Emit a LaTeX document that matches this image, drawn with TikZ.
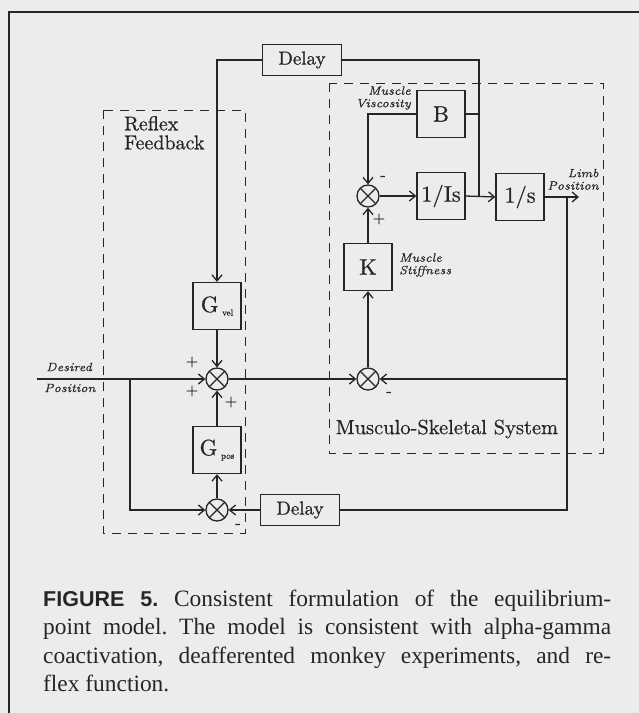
\documentclass[tikz,border=0pt]{standalone}
\usepackage{fontspec}
\usepackage{xcolor}
\usepackage{tikz}
\usetikzlibrary{positioning, arrows.meta}
\definecolor{paper}{HTML}{ECECEC}
\definecolor{ink}{HTML}{262626}
\newfontfamily\capserif{Liberation Serif}
\newfontfamily\capsans{Liberation Sans}
\newfontfamily\diagfont{lmroman10-regular.otf}[FakeBold=0.6]
\newfontfamily\noteital{lmroman7-italic.otf}[FakeBold=0.4]

\begin{document}
\begin{tikzpicture}[x=1pt, y=-1pt,
    blockbox/.style={draw=ink, line width=1.3pt, minimum width=48pt, minimum height=47pt,
        inner sep=0pt, text=ink, font=\diagfont\fontsize{22.5}{24}\selectfont},
    delaybox/.style={blockbox, minimum width=79pt, minimum height=31pt,
        font=\diagfont\fontsize{19}{22}\selectfont},
    sumnode/.style={circle, draw=ink, line width=1.3pt, minimum size=22pt, inner sep=0pt,
        path picture={\draw[ink, line width=1.1pt]
            (path picture bounding box.south west) -- (path picture bounding box.north east)
            (path picture bounding box.north west) -- (path picture bounding box.south east);}},
    wire/.style={draw=ink, line width=1.3pt},
    flow/.style={wire, -{Straight Barb[length=6pt, width=10pt]}},
    note/.style={font=\noteital\fontsize{12}{12.5}\selectfont, text=ink, inner sep=0pt},
    signmark/.style={font=\diagfont\fontsize{16}{16}\selectfont, text=ink, inner sep=0pt},
    groupbox/.style={draw=ink, line width=0.9pt, dash pattern=on 9pt off 7pt}]
    \fill[paper] (0,0) rectangle (639,713);
    \useasboundingbox (0,0) rectangle (639,713);
    \draw[ink, line width=1.6pt] (9,713) -- (9,12) -- (639,12);

    % group outlines
    \draw[groupbox] (103,110) rectangle (245,533);
    \draw[groupbox] (329,83) rectangle (603,453);
    \node[anchor=north west, align=left, text=ink, inner sep=0pt,
          font=\diagfont\fontsize{20}{19}\selectfont] (reflexlbl) at (124,116) {Reflex\\Feedback};
    \node[text=ink, inner sep=0pt, font=\diagfont\fontsize{20.5}{22}\selectfont]
          (mslbl) at (447,429) {Musculo-Skeletal System};

    % blocks
    \node[delaybox] (dlyT) at (302,60) {Delay};
    \node[delaybox] (dlyB) at (300,510) {Delay};
    \node[blockbox] (B) at (441,114) {B};
    \node[blockbox] (Is) at (441,196) {1/Is};
    \node[blockbox] (s) at (520,197) {1/s};
    \node[blockbox] (K) at (368,267) {K};
    \node[blockbox] (Gvel) at (217,306) {G\,\raisebox{-0.35ex}{\fontsize{9}{9}\selectfont vel}};
    \node[blockbox] (Gpos) at (217,450) {G\,\raisebox{-0.35ex}{\fontsize{9}{9}\selectfont pos}};

    % summing junctions
    \node[sumnode] (sumA) at (368,196) {};
    \node[sumnode] (sumB) at (368,379) {};
    \node[sumnode] (sumC) at (217,379) {};
    \node[sumnode] (sumD) at (217,510) {};

    \coordinate (desired) at (37,379);
    \coordinate (branch) at (130,379);
    \coordinate (vel) at (479,197);
    \coordinate (limbpos) at (567,197);
    \coordinate (limb) at (579,197);

    % labels
    \node[note, anchor=east, align=right] (visclbl) at (411,98) {Muscle\\Viscosity};
    \node[note, anchor=west, align=left] (stifflbl) at (399,265) {Muscle\\Stiffness};
    \node[note, anchor=south east, align=right] (limblbl) at (599,190) {Limb\\Position};
    \node[note, anchor=west] (deslbl1) at (46,367) {Desired};
    \node[note, anchor=west] (deslbl2) at (44,388) {Position};

    % signs
    \node[signmark] at (383,178) {-};
    \node[signmark] at (379,219) {+};
    \node[signmark] at (389,394) {-};
    \node[signmark] at (192,362) {+};
    \node[signmark] at (192,391) {+};
    \node[signmark] at (231,402) {+};
    \node[signmark] at (238,526) {-};

    % connections
    \draw[flow] (dlyT.west) -| (Gvel.north);
    \draw[wire] (vel) |- (dlyT.east);
    \draw[wire] (B.east) -- (B.east -| vel);
    \draw[flow] (B.west) -| (sumA.north);
    \draw[flow] (sumA.east) -- (Is.west);
    \draw[flow] (Is.east) -- (s.west);
    \draw[flow] (s.east) -- (limb);
    \draw[wire] (limbpos) |- (dlyB.east);
    \draw[flow] (limbpos |- sumB) -- (sumB.east);
    \draw[flow] (dlyB.west) -- (sumD.east);
    \draw[flow] (sumD.north) -- (Gpos.south);
    \draw[flow] (Gpos.north) -- (sumC.south);
    \draw[flow] (Gvel.south) -- (sumC.north);
    \draw[flow] (desired) -- (sumC.west);
    \draw[flow] (branch) |- (sumD.west);
    \draw[flow] (sumC.east) -- (sumB.west);
    \draw[flow] (sumB.north) -- (K.south);
    \draw[flow] (K.north) -- (sumA.south);

    % caption
    \node[anchor=north west, text width=568pt, inner sep=0pt, align=justify, text=ink,
          font=\capserif\fontsize{23.4}{28.3}\selectfont\frenchspacing] (caption) at (43,590)
        {{\capsans\bfseries\fontsize{21.5}{28.3}\selectfont FIGURE 5.} Consistent formulation
         of the equilibrium-\linebreak point model. The model is consistent with
         alpha-gamma\linebreak coactivation, deafferented monkey experiments, and
         re-\linebreak flex function.};
\end{tikzpicture}
\end{document}
